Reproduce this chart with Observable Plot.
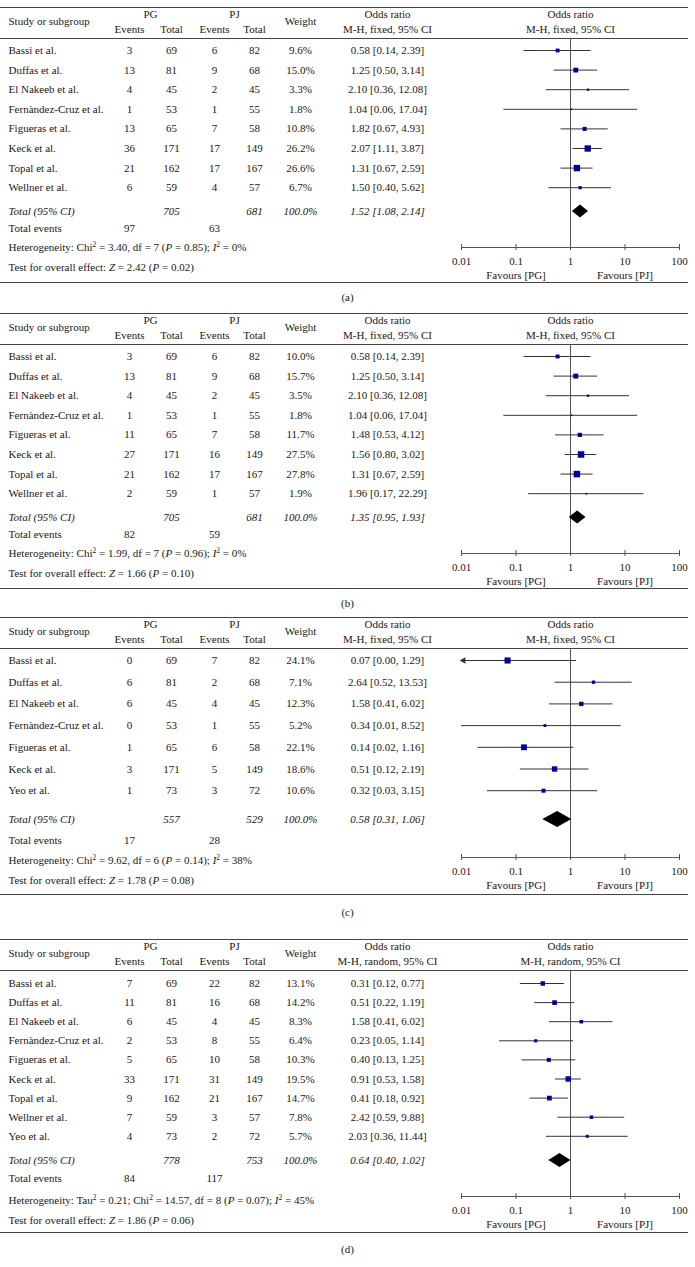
<!DOCTYPE html>
<html><head><meta charset="utf-8">
<script src="https://cdn.jsdelivr.net/npm/d3@7"></script>
<script src="https://cdn.jsdelivr.net/npm/@observablehq/plot@0.6"></script>
<style>
body{margin:0;background:#fff;width:695px;}
svg{display:block}
.cap{font:11px "Liberation Serif","Times New Roman",serif;color:#1a1718;display:flex;align-items:center;justify-content:center;width:695px;}
</style></head><body><div id="root"></div>
<script>
// ---------- data ----------
const tickValues = [0.01, 0.1, 1, 10, 100];
const tickLabels = ["0.01", "0.1", "1", "10", "100"];

// Panel (a)
const studiesA = ["Bassi et al.", "Duffas et al.", "El Nakeeb et al.", "Fernàndez-Cruz et al.", "Figueras et al.", "Keck et al.", "Topal et al.", "Wellner et al."];
const pgEventsA = [3, 13, 4, 1, 13, 36, 21, 6];
const pgTotalA = [69, 81, 45, 53, 65, 171, 162, 59];
const pjEventsA = [6, 9, 2, 1, 7, 17, 17, 4];
const pjTotalA = [82, 68, 45, 55, 58, 149, 167, 57];
const weightA = [9.6, 15.0, 3.3, 1.8, 10.8, 26.2, 26.6, 6.7];
const orA = [0.58, 1.25, 2.10, 1.04, 1.82, 2.07, 1.31, 1.50];
const loA = [0.14, 0.50, 0.36, 0.06, 0.67, 1.11, 0.67, 0.40];
const hiA = [2.39, 3.14, 12.08, 17.04, 4.93, 3.87, 2.59, 5.62];
const totalA = [705, 681, 100.0, 1.52, 1.08, 2.14]; // PG total, PJ total, weight, OR, lo, hi
const eventsA = [97, 63];
const hetA = "Heterogeneity: Chi{2} = 3.40, df = 7 (*P* = 0.85); *I*{2} = 0%";
const testA = "Test for overall effect: *Z* = 2.42 (*P* = 0.02)";

// Panel (b)
const studiesB = ["Bassi et al.", "Duffas et al.", "El Nakeeb et al.", "Fernàndez-Cruz et al.", "Figueras et al.", "Keck et al.", "Topal et al.", "Wellner et al."];
const pgEventsB = [3, 13, 4, 1, 11, 27, 21, 2];
const pgTotalB = [69, 81, 45, 53, 65, 171, 162, 59];
const pjEventsB = [6, 9, 2, 1, 7, 16, 17, 1];
const pjTotalB = [82, 68, 45, 55, 58, 149, 167, 57];
const weightB = [10.0, 15.7, 3.5, 1.8, 11.7, 27.5, 27.8, 1.9];
const orB = [0.58, 1.25, 2.10, 1.04, 1.48, 1.56, 1.31, 1.96];
const loB = [0.14, 0.50, 0.36, 0.06, 0.53, 0.80, 0.67, 0.17];
const hiB = [2.39, 3.14, 12.08, 17.04, 4.12, 3.02, 2.59, 22.29];
const totalB = [705, 681, 100.0, 1.35, 0.95, 1.93];
const eventsB = [82, 59];
const hetB = "Heterogeneity: Chi{2} = 1.99, df = 7 (*P* = 0.96); *I*{2} = 0%";
const testB = "Test for overall effect: *Z* = 1.66 (*P* = 0.10)";

// Panel (c)
const studiesC = ["Bassi et al.", "Duffas et al.", "El Nakeeb et al.", "Fernàndez-Cruz et al.", "Figueras et al.", "Keck et al.", "Yeo et al."];
const pgEventsC = [0, 6, 6, 0, 1, 3, 1];
const pgTotalC = [69, 81, 45, 53, 65, 171, 73];
const pjEventsC = [7, 2, 4, 1, 6, 5, 3];
const pjTotalC = [82, 68, 45, 55, 58, 149, 72];
const weightC = [24.1, 7.1, 12.3, 5.2, 22.1, 18.6, 10.6];
const orC = [0.07, 2.64, 1.58, 0.34, 0.14, 0.51, 0.32];
const loC = [0.00, 0.52, 0.41, 0.01, 0.02, 0.12, 0.03];
const hiC = [1.29, 13.53, 6.02, 8.52, 1.16, 2.19, 3.15];
const totalC = [557, 529, 100.0, 0.58, 0.31, 1.06];
const eventsC = [17, 28];
const hetC = "Heterogeneity: Chi{2} = 9.62, df = 6 (*P* = 0.14); *I*{2} = 38%";
const testC = "Test for overall effect: *Z* = 1.78 (*P* = 0.08)";

// Panel (d)
const studiesD = ["Bassi et al.", "Duffas et al.", "El Nakeeb et al.", "Fernàndez-Cruz et al.", "Figueras et al.", "Keck et al.", "Topal et al.", "Wellner et al.", "Yeo et al."];
const pgEventsD = [7, 11, 6, 2, 5, 33, 9, 7, 4];
const pgTotalD = [69, 81, 45, 53, 65, 171, 162, 59, 73];
const pjEventsD = [22, 16, 4, 8, 10, 31, 21, 3, 2];
const pjTotalD = [82, 68, 45, 55, 58, 149, 167, 57, 72];
const weightD = [13.1, 14.2, 8.3, 6.4, 10.3, 19.5, 14.7, 7.8, 5.7];
const orD = [0.31, 0.51, 1.58, 0.23, 0.40, 0.91, 0.41, 2.42, 2.03];
const loD = [0.12, 0.22, 0.41, 0.05, 0.13, 0.53, 0.18, 0.59, 0.36];
const hiD = [0.77, 1.19, 6.02, 1.14, 1.25, 1.58, 0.92, 9.88, 11.44];
const totalD = [778, 753, 100.0, 0.64, 0.40, 1.02];
const eventsD = [84, 117];
const hetD = "Heterogeneity: Tau{2} = 0.21; Chi{2} = 14.57, df = 8 (*P* = 0.07); *I*{2} = 45%";
const testD = "Test for overall effect: *Z* = 1.86 (*P* = 0.06)";

const captions = ["(a)", "(b)", "(c)", "(d)"];
const methods = ["M-H, fixed, 95% CI", "M-H, fixed, 95% CI", "M-H, fixed, 95% CI", "M-H, random, 95% CI"];

// ---------- layout ----------
const FONT = '"Liberation Serif", "Times New Roman", serif';
const INK = "#1a1718";
const SQUARE = "#000099";
const RULE = "#444";
const COL = {study: 8, pgE: 129, pgT: 171, pjE: 214, pjT: 254, weight: 300, or: 387, pg: 150, pj: 234};
const layouts = [
  {svgH: 288, top: 7, first: 50, step: 19.6, total: 211, axis: 247, bottom: 282, dia: 6.5, capH: 18, te: 17, het: 0, test: 20},
  {svgH: 288, top: 7, first: 50, step: 19.6, total: 211, axis: 247, bottom: 282, dia: 6.5, capH: 18, te: 17, het: 0, test: 20},
  {svgH: 289, top: 5, first: 48, step: 21.7, total: 207, axis: 245, bottom: 282, dia: 8, capH: 22, te: 21, het: 3, test: 23},
  {svgH: 315, top: 16, first: 60, step: 19.1, total: 237, axis: 273, bottom: 309, dia: 7, capH: 22, te: 18, het: 4, test: 24}
];

const f2 = v => v.toFixed(2);
const orText = (o, l, h) => `${f2(o)} [${f2(l)}, ${f2(h)}]`;

function rich(el, s) {
  el.textContent = "";
  let shift = 0;
  for (const part of s.split(/(\{[^}]*\}|\*[^*]*\*)/)) {
    if (!part) continue;
    const ts = d3.select(el).append("tspan");
    if (part[0] === "{") {
      ts.text(part.slice(1, -1)).attr("dy", -4).attr("font-size", "7.5px");
      shift = 4;
    } else {
      if (shift) { ts.attr("dy", shift); shift = 0; }
      if (part[0] === "*") ts.text(part.slice(1, -1)).attr("font-style", "italic");
      else ts.text(part);
    }
  }
}

function panel(p, L, method) {
  const row = px => (px - L.first) / L.step;
  const rows = p.studies.map((s, i) => ({
    i, study: s, pgE: p.pgE[i], pgT: p.pgT[i], pjE: p.pjE[i], pjT: p.pjT[i],
    w: p.w[i], or: p.or[i], lo: p.lo[i], hi: p.hi[i]
  }));
  const [tPG, tPJ, tW, tOR, tLo, tHi] = p.total;
  const yTot = row(L.total);
  const h = L.dia / L.step;
  const diamond = [
    {y: yTot - h, x1: tOR, x2: tOR},
    {y: yTot, x1: tLo, x2: tHi},
    {y: yTot + h, x1: tOR, x2: tOR}
  ];
  const T = L.top;
  const txt = {fontFamily: FONT, fontSize: 11, fill: INK};
  const colText = (data, text, dx, y, extra = {}) =>
    Plot.text(data, {text, y, frameAnchor: "left", dx, textAnchor: "middle", ...txt, ...extra});
  const one = [0];
  const marks = [
    // horizontal rules
    Plot.ruleY([row(T), row(T + 31), row(L.bottom)], {stroke: RULE, strokeWidth: 1.2}),
    // header
    colText(one, () => "Study or subgroup", COL.study, () => row(T + 14), {textAnchor: "start"}),
    colText(one, () => "PG", COL.pg, () => row(T + 7)),
    colText(one, () => "PJ", COL.pj, () => row(T + 7)),
    colText(one, () => "Events", COL.pgE, () => row(T + 22)),
    colText(one, () => "Total", COL.pgT, () => row(T + 22)),
    colText(one, () => "Events", COL.pjE, () => row(T + 22)),
    colText(one, () => "Total", COL.pjT, () => row(T + 22)),
    colText(one, () => "Weight", COL.weight, () => row(T + 14)),
    colText(one, () => "Odds ratio", COL.or, () => row(T + 7)),
    colText(one, () => method, COL.or, () => row(T + 22)),
    Plot.text(one, {x: () => 1, y: () => row(T + 7), text: () => "Odds ratio", ...txt}),
    Plot.text(one, {x: () => 1, y: () => row(T + 22), text: () => method, ...txt}),
    // study rows
    colText(rows, "study", COL.study, "i", {textAnchor: "start"}),
    colText(rows, "pgE", COL.pgE, "i"),
    colText(rows, "pgT", COL.pgT, "i"),
    colText(rows, "pjE", COL.pjE, "i"),
    colText(rows, "pjT", COL.pjT, "i"),
    colText(rows, d => d.w.toFixed(1) + "%", COL.weight, "i"),
    colText(rows, d => orText(d.or, d.lo, d.hi), COL.or, "i"),
    // total row (italic)
    colText(one, () => "Total (95% CI)", COL.study, () => yTot, {textAnchor: "start", fontStyle: "italic"}),
    colText(one, () => tPG, COL.pgT, () => yTot, {fontStyle: "italic"}),
    colText(one, () => tPJ, COL.pjT, () => yTot, {fontStyle: "italic"}),
    colText(one, () => tW.toFixed(1) + "%", COL.weight, () => yTot, {fontStyle: "italic"}),
    colText(one, () => orText(tOR, tLo, tHi), COL.or, () => yTot, {fontStyle: "italic"}),
    // total events and statistics
    colText(one, () => "Total events", COL.study, () => row(L.total + L.te), {textAnchor: "start"}),
    colText(one, () => p.events[0], COL.pgE, () => row(L.total + L.te)),
    colText(one, () => p.events[1], COL.pjE, () => row(L.total + L.te)),
    colText(one, () => p.het, COL.study, () => row(L.axis + L.het), {textAnchor: "start"}),
    colText(one, () => p.test, COL.study, () => row(L.axis + L.test), {textAnchor: "start"}),
    // forest plot
    Plot.ruleX([1], {y1: () => row(T + 31), y2: () => row(L.axis), stroke: "#555", strokeWidth: 1}),
    Plot.ruleY(rows, {y: "i", x1: d => Math.max(d.lo, 0.01), x2: d => Math.min(d.hi, 100), stroke: "#333", strokeWidth: 1}),
    Plot.dot(rows.filter(d => d.lo < 0.01), {x: () => 0.01, y: "i", symbol: "triangle", r: 2.4, rotate: -90, fill: "#333", dx: 2}),
    Plot.dot(rows, {x: "or", y: "i", r: "w", symbol: "square", fill: SQUARE, stroke: "none"}),
    Plot.areaX(diamond, {y: "y", x1: "x1", x2: "x2", fill: "#000", curve: "linear"}),
    // axis
    Plot.ruleY([row(L.axis)], {x1: () => 0.01, x2: () => 100, stroke: "#555", strokeWidth: 1}),
    Plot.ruleX(tickValues, {x: d => d, y1: () => row(L.axis - 3), y2: () => row(L.axis + 3), stroke: "#555", strokeWidth: 1}),
    Plot.text(tickValues, {x: d => d, y: () => row(L.axis + 14), text: (d, i) => tickLabels[i], ...txt}),
    Plot.text(one, {x: () => 0.1, y: () => row(L.axis + 28), text: () => "Favours [PG]", ...txt}),
    Plot.text(one, {x: () => 10, y: () => row(L.axis + 28), text: () => "Favours [PJ]", ...txt})
  ];
  const svg = Plot.plot({
    width: 695, height: L.svgH,
    marginTop: 0, marginBottom: 0, marginLeft: 0, marginRight: 7,
    x: {type: "log", domain: [0.01, 100], range: [461, 679], axis: null},
    y: {type: "linear", domain: [0, 1], range: [L.first, L.first + L.step], axis: null},
    r: {type: "sqrt", domain: [0, 100], range: [0, 7]},
    style: {fontFamily: FONT, fontSize: "11px", color: INK, background: "#fff", overflow: "visible"},
    marks
  });
  d3.select(svg).selectAll("text").each(function () {
    const t = this.textContent;
    if (/[{*]/.test(t)) rich(this, t);
  });
  return svg;
}

const panels = [
  {studies: studiesA, pgE: pgEventsA, pgT: pgTotalA, pjE: pjEventsA, pjT: pjTotalA, w: weightA, or: orA, lo: loA, hi: hiA, total: totalA, events: eventsA, het: hetA, test: testA},
  {studies: studiesB, pgE: pgEventsB, pgT: pgTotalB, pjE: pjEventsB, pjT: pjTotalB, w: weightB, or: orB, lo: loB, hi: hiB, total: totalB, events: eventsB, het: hetB, test: testB},
  {studies: studiesC, pgE: pgEventsC, pgT: pgTotalC, pjE: pjEventsC, pjT: pjTotalC, w: weightC, or: orC, lo: loC, hi: hiC, total: totalC, events: eventsC, het: hetC, test: testC},
  {studies: studiesD, pgE: pgEventsD, pgT: pgTotalD, pjE: pjEventsD, pjT: pjTotalD, w: weightD, or: orD, lo: loD, hi: hiD, total: totalD, events: eventsD, het: hetD, test: testD}
];

const root = document.getElementById("root");
panels.forEach((p, k) => {
  root.appendChild(panel(p, layouts[k], methods[k]));
  const cap = document.createElement("div");
  cap.className = "cap";
  cap.style.height = layouts[k].capH + "px";
  cap.textContent = captions[k];
  root.appendChild(cap);
});
</script></body></html>
